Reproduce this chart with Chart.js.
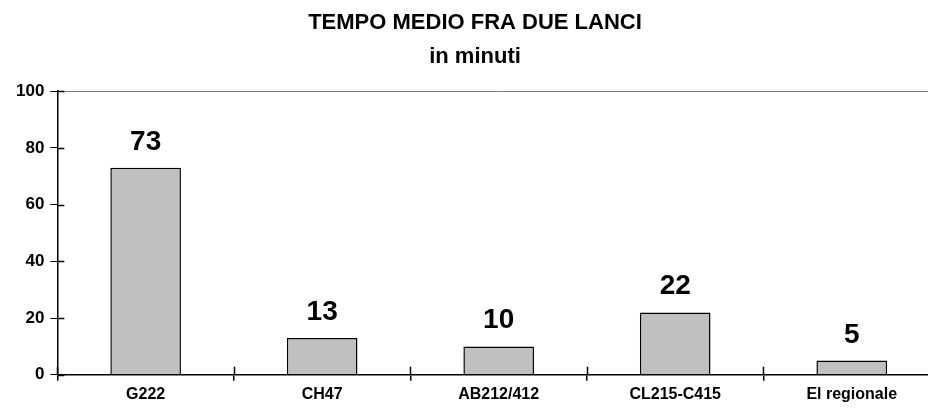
<!DOCTYPE html>
<html>
<head>
<meta charset="utf-8">
<script src="https://cdn.jsdelivr.net/npm/chart.js@4.4.1/dist/chart.umd.min.js"></script>
<style>
  html, body { margin: 0; padding: 0; background: #fff; overflow: hidden; }
  #wrap { width: 940px; height: 412px; }
</style>
</head>
<body>
<div id="wrap"><canvas id="chart"></canvas></div>
<script>
// tempo medio fra due lanci, in minuti
const categories = ['G222', 'CH47', 'AB212/412', 'CL215-C415', 'El regionale'];
const minutes = [73, 13, 10, 22, 5];
const yTicks = [0, 20, 40, 60, 80, 100];

const FONT = "'Liberation Sans', Arial, sans-serif";

// value labels above bars
const valueLabels = {
    id: 'valueLabels',
    afterDatasetsDraw(chart) {
        const ctx = chart.ctx;
        const meta = chart.getDatasetMeta(0);
        ctx.save();
        ctx.fillStyle = '#000';
        ctx.font = 'bold 28px ' + FONT;
        ctx.textAlign = 'center';
        ctx.textBaseline = 'alphabetic';
        meta.data.forEach((bar, i) => {
            ctx.fillText(String(minutes[i]), bar.x, bar.y - 18);
        });
        ctx.restore();
    }
};

// tick marks that cross the axes (inside part)
const innerTicks = {
    id: 'innerTicks',
    afterDraw(chart) {
        const ctx = chart.ctx;
        const x = chart.scales.x, y = chart.scales.y;
        ctx.save();
        ctx.strokeStyle = '#000';
        ctx.lineWidth = 1.5;
        ctx.beginPath();
        yTicks.forEach(v => {
            const py = Math.round(y.getPixelForValue(v)) + 0.5;
            ctx.moveTo(x.left, py);
            ctx.lineTo(x.left + 7, py);
        });
        for (let i = 0; i <= categories.length; i++) {
            const px = Math.round(x.getPixelForValue(i - 0.5)) + 0.5;
            ctx.moveTo(px, y.bottom);
            ctx.lineTo(px, y.bottom - 8);
        }
        ctx.stroke();
        ctx.restore();
    }
};

new Chart(document.getElementById('chart'), {
    type: 'bar',
    data: {
        labels: categories,
        datasets: [{
            data: minutes,
            backgroundColor: '#c0c0c0',
            borderColor: '#000',
            borderWidth: 1.5,
            barPercentage: 0.4,
            categoryPercentage: 1.0
        }]
    },
    options: {
        responsive: true,
        maintainAspectRatio: false,
        animation: false,
        layout: { padding: { left: 10, right: 0, top: 2, bottom: 4 } },
        plugins: {
            legend: { display: false },
            tooltip: { enabled: false },
            title: {
                display: true,
                text: ['TEMPO MEDIO FRA DUE LANCI', 'in minuti'],
                color: '#000',
                font: { family: FONT, size: 22, weight: 'bold', lineHeight: 1.55 },
                padding: { top: 4, bottom: 17 }
            }
        },
        scales: {
            x: {
                offset: true,
                border: { color: '#000', width: 1.5 },
                grid: {
                    offset: true,
                    drawOnChartArea: false,
                    color: '#000',
                    lineWidth: 1.5,
                    tickLength: 6
                },
                ticks: {
                    color: '#000',
                    font: { family: FONT, size: 16, weight: 'bold' },
                    padding: 4,
                    maxRotation: 0
                }
            },
            y: {
                min: 0,
                max: 100,
                border: { color: '#000', width: 1.5 },
                afterBuildTicks(scale) {
                    scale.ticks = yTicks.map(v => ({ value: v }));
                },
                grid: {
                    color: ctx => ctx.tick && ctx.tick.value === 100 ? '#808080' : 'rgba(0,0,0,0)',
                    tickColor: '#000',
                    lineWidth: 1,
                    tickLength: 7
                },
                ticks: {
                    color: '#000',
                    font: { family: FONT, size: 17, weight: 'bold' },
                    padding: 6
                }
            }
        }
    },
    plugins: [valueLabels, innerTicks]
});
</script>
</body>
</html>
